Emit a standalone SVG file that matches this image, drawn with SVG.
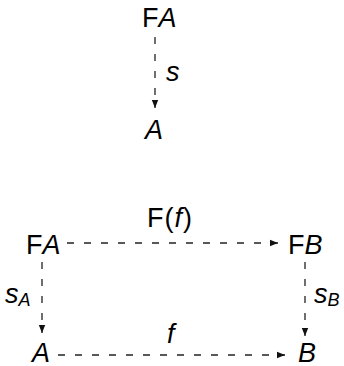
<svg xmlns="http://www.w3.org/2000/svg" width="344" height="366" viewBox="0 0 344 366">
<defs>
<style>
text{font-family:"Liberation Sans",Arial,sans-serif;font-size:27px;fill:#000}
.i{font-style:italic}
.sub{font-size:18px;font-style:italic}
.e{stroke:#222;stroke-width:1.3;stroke-dasharray:7 10;fill:none}
</style>
<marker id="ah" viewBox="0 0 10 10" refX="10" refY="5" markerWidth="8" markerHeight="8" markerUnits="userSpaceOnUse" orient="auto"><path d="M0,1 L10,5 L0,9 Z" fill="#111"/></marker>
</defs>
<g id="connectors">
<line class="e" x1="155" y1="37" x2="155" y2="108" marker-end="url(#ah)"/>
<line class="e" x1="67" y1="243" x2="278" y2="243" marker-end="url(#ah)"/>
<line class="e" x1="58" y1="355" x2="285" y2="355" marker-end="url(#ah)"/>
<line class="e" x1="42" y1="262" x2="42" y2="333" marker-end="url(#ah)"/>
<line class="e" x1="305" y1="262" x2="305" y2="336" marker-end="url(#ah)"/>
<text x="166" y="81" class="i">s</text>
<text x="147" y="227" letter-spacing="1">F(<tspan class="i">f</tspan>)</text>
<text x="167" y="343" class="i">f</text>
<text x="5" y="303" class="i">s<tspan class="sub" dy="3">A</tspan></text>
<text x="314" y="303" class="i">s<tspan class="sub" dy="3">B</tspan></text>
</g>
<g id="FA_top"><text x="142" y="27">F<tspan class="i">A</tspan></text></g>
<g id="A_top"><text x="145" y="139" class="i">A</text></g>
<g id="FA"><text x="26" y="254">F<tspan class="i">A</tspan></text></g>
<g id="FB"><text x="288" y="254">F<tspan class="i">B</tspan></text></g>
<g id="A"><text x="32" y="362" class="i">A</text></g>
<g id="B"><text x="298" y="362" class="i">B</text></g>
</svg>
